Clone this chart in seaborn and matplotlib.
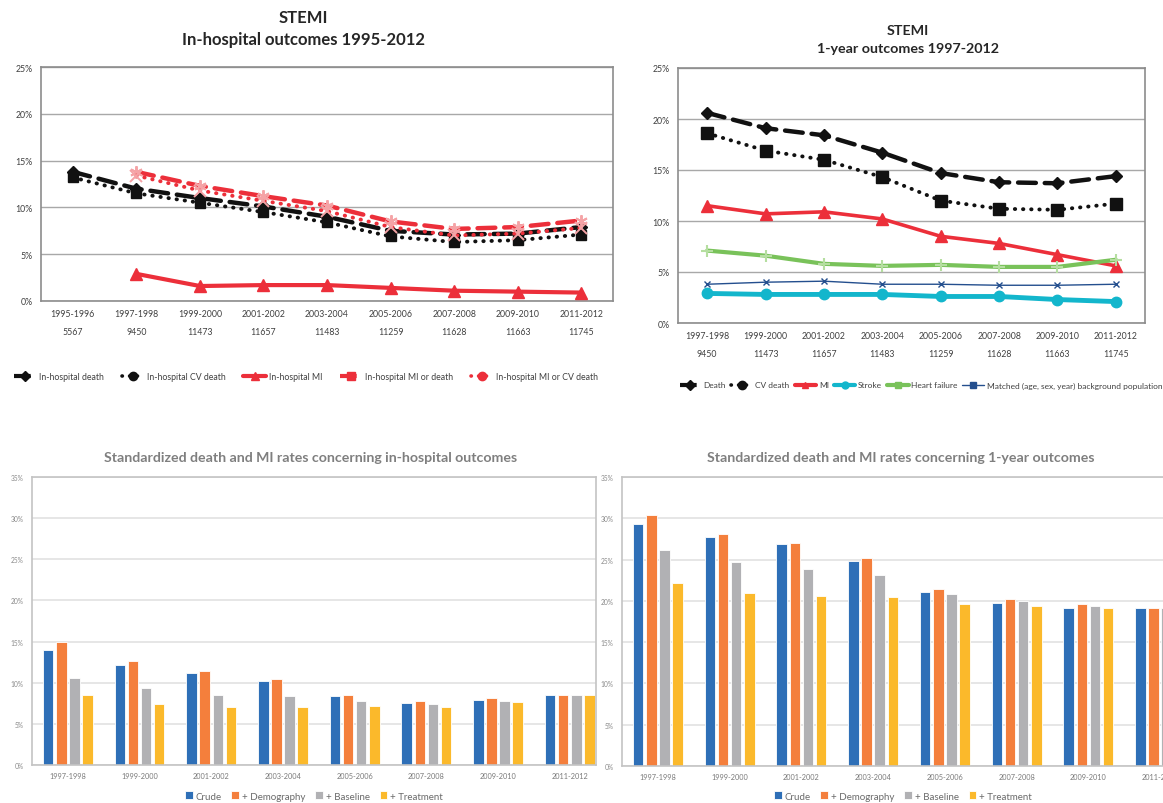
import numpy as np
import pandas as pd
import seaborn as sns
import matplotlib.pyplot as plt
from matplotlib.lines import Line2D

sns.set_style("white")
plt.rcParams['font.family'] = ['Lato', 'DejaVu Sans']

# ---- data: in-hospital outcomes (top left)
hosp_periods = ['1995-1996', '1997-1998', '1999-2000', '2001-2002', '2003-2004',
                '2005-2006', '2007-2008', '2009-2010', '2011-2012']
hosp_counts = ['5567', '9450', '11473', '11657', '11483', '11259', '11628', '11663', '11745']
hosp_death = [13.8, 12.0, 11.0, 10.1, 9.0, 7.5, 7.1, 7.2, 7.9]
hosp_cv_death = [13.2, 11.5, 10.5, 9.5, 8.4, 6.9, 6.3, 6.5, 7.1]
hosp_mi = [np.nan, 2.9, 1.6, 1.7, 1.7, 1.4, 1.1, 1.0, 0.9]
hosp_mi_or_death = [np.nan, 13.8, 12.3, 11.2, 10.2, 8.5, 7.7, 7.9, 8.6]
hosp_mi_or_cv_death = [np.nan, 13.4, 11.8, 10.7, 9.6, 7.9, 7.0, 7.2, 7.8]

# ---- data: 1-year outcomes (top right)
year_periods = hosp_periods[1:]
year_counts = hosp_counts[1:]
year_death = [20.6, 19.1, 18.4, 16.7, 14.7, 13.8, 13.7, 14.4]
year_cv_death = [18.6, 16.9, 16.0, 14.3, 12.0, 11.2, 11.1, 11.7]
year_mi = [11.5, 10.7, 10.9, 10.2, 8.5, 7.8, 6.7, 5.6]
year_stroke = [2.9, 2.8, 2.8, 2.8, 2.6, 2.6, 2.3, 2.1]
year_hf = [7.1, 6.6, 5.8, 5.6, 5.7, 5.5, 5.5, 6.2]
year_matched = [3.8, 4.0, 4.1, 3.8, 3.8, 3.7, 3.7, 3.8]

# ---- data: standardized rates (bottom)
models = ['Crude', '+ Demography', '+ Baseline', '+ Treatment']
std_hosp = {
    'Crude': [14.0, 12.2, 11.2, 10.2, 8.4, 7.5, 7.9, 8.5],
    '+ Demography': [14.9, 12.6, 11.4, 10.4, 8.5, 7.8, 8.1, 8.5],
    '+ Baseline': [10.6, 9.4, 8.5, 8.4, 7.8, 7.4, 7.8, 8.5],
    '+ Treatment': [8.5, 7.4, 7.0, 7.1, 7.2, 7.1, 7.7, 8.5],
}
std_year = {
    'Crude': [29.3, 27.7, 26.9, 24.8, 21.1, 19.7, 19.1, 19.1],
    '+ Demography': [30.4, 28.1, 27.0, 25.2, 21.4, 20.2, 19.6, 19.1],
    '+ Baseline': [26.1, 24.7, 23.9, 23.1, 20.8, 20.0, 19.4, 19.1],
    '+ Treatment': [22.2, 21.0, 20.6, 20.5, 19.6, 19.4, 19.1, 19.1],
}
bar_colors = ['#2e6fb7', '#f47f3c', '#b1b1b4', '#fbb92b']

BLACK = '#111111'
RED = '#ec2f3a'
PINK = '#f5a3a6'
CYAN = '#13b6cc'
GREEN = '#79c25a'
NAVY = '#244f8e'

W, H = 1163, 804
fig = plt.figure(figsize=(W / 100, H / 100), dpi=100)


def px_axes(left, top, right, bottom):
    return fig.add_axes([left / W, 1 - bottom / H, (right - left) / W, (bottom - top) / H])


def draw_line(ax, y, color, ls, lw, marker, ms, mfc, mec, mew=1.0, z=3):
    sns.lineplot(x=np.arange(len(y)), y=y, ax=ax, color=color, linestyle=ls,
                 linewidth=lw, marker=marker, markersize=ms, markerfacecolor=mfc,
                 markeredgecolor=mec, markeredgewidth=mew, dash_capstyle='round',
                 errorbar=None, zorder=z, legend=False)


def style_line_axes(ax, periods, counts, top):
    n = len(periods)
    ax.set_xlim(-0.5, n - 0.5)
    ax.set_ylim(0, top)
    ax.set_yticks(range(0, top + 1, 5))
    ax.set_yticklabels([f'{v}%' for v in range(0, top + 1, 5)], fontsize=6.3, color='#404040')
    ax.set_xticks(range(n))
    ax.set_xticklabels([f'{p}\n{c}' for p, c in zip(periods, counts)],
                       fontsize=6.3, color='#404040', linespacing=2.3)
    ax.tick_params(length=0, pad=6)
    ax.grid(axis='y', color='#a8a8a8', linewidth=1.0)
    ax.set_axisbelow(True)
    for s in ax.spines.values():
        s.set_color('#8c8c8c')
        s.set_linewidth(1.2)
    ax.set_xlabel('')
    ax.set_ylabel('')


dash = (0, (4, 2))
dot = (0, (0.1, 2))

# ---- top left
ax1 = px_axes(41, 68, 613, 302)
draw_line(ax1, hosp_death, BLACK, dash, 3.2, 'D', 6, BLACK, BLACK)
draw_line(ax1, hosp_cv_death, BLACK, dot, 2.8, 's', 7.5, BLACK, BLACK)
draw_line(ax1, hosp_mi, RED, '-', 3, '^', 8, RED, RED)
draw_line(ax1, hosp_mi_or_death, RED, dash, 3.2, (6, 2, 0), 9, PINK, PINK, 1.4)
draw_line(ax1, hosp_mi_or_cv_death, RED, dot, 2.8, 'x', 8, PINK, PINK, 1.4)
style_line_axes(ax1, hosp_periods, hosp_counts, 25)
fig.text(303 / W, 1 - 18 / H, 'STEMI', ha='center', va='center', fontsize=12, fontweight='bold')
fig.text(303 / W, 1 - 40 / H, 'In-hospital outcomes 1995-2012', ha='center', va='center',
         fontsize=12, fontweight='bold')
h1 = [
    Line2D([], [], color=BLACK, ls=dash, lw=3, marker='D', ms=5),
    Line2D([], [], color=BLACK, ls=dot, lw=2.6, marker='o', ms=6, dash_capstyle='round'),
    Line2D([], [], color=RED, ls='-', lw=3, marker='^', ms=6),
    Line2D([], [], color=RED, ls=dash, lw=3, marker='s', ms=6),
    Line2D([], [], color=RED, ls=dot, lw=2.6, marker='o', ms=6, dash_capstyle='round'),
]
l1 = ['In-hospital death', 'In-hospital CV death', 'In-hospital MI',
      'In-hospital MI or death', 'In-hospital MI or CV death']
fig.legend(h1, l1, loc='center', bbox_to_anchor=(306 / W, 1 - 378 / H), ncol=5,
           frameon=False, fontsize=6.3, handlelength=2.6, handletextpad=0.3,
           columnspacing=2.0, labelcolor='#404040')

# ---- top right
ax2 = px_axes(678, 69, 1145, 324)
draw_line(ax2, year_death, BLACK, dash, 3.2, 'D', 6, BLACK, BLACK)
draw_line(ax2, year_cv_death, BLACK, dot, 2.8, 's', 8, BLACK, BLACK)
draw_line(ax2, year_mi, RED, '-', 2.6, '^', 8, RED, RED)
draw_line(ax2, year_hf, GREEN, '-', 3, '+', 9, '#b5dea0', '#b5dea0', 1.5)
draw_line(ax2, year_matched, NAVY, '-', 1.0, 'x', 5, NAVY, NAVY, 1.0)
draw_line(ax2, year_stroke, CYAN, '-', 3.5, 'o', 7.5, CYAN, CYAN)
style_line_axes(ax2, year_periods, year_counts, 25)
fig.text(908 / W, 1 - 31 / H, 'STEMI', ha='center', va='center', fontsize=10.3, fontweight='bold')
fig.text(908 / W, 1 - 49 / H, '1-year outcomes 1997-2012', ha='center', va='center',
         fontsize=10.3, fontweight='bold')
h2 = [
    Line2D([], [], color=BLACK, ls=dash, lw=3, marker='D', ms=5),
    Line2D([], [], color=BLACK, ls=dot, lw=2.6, marker='o', ms=6, dash_capstyle='round'),
    Line2D([], [], color=RED, ls='-', lw=3, marker='^', ms=5),
    Line2D([], [], color=CYAN, ls='-', lw=3, marker='o', ms=5),
    Line2D([], [], color=GREEN, ls='-', lw=3, marker='s', ms=5),
    Line2D([], [], color=NAVY, ls='-', lw=1, marker='s', ms=4),
]
l2 = ['Death', 'CV death', 'MI', 'Stroke', 'Heart failure',
      'Matched (age, sex, year) background population']
fig.legend(h2, l2, loc='center left', bbox_to_anchor=(672 / W, 1 - 386 / H), ncol=6,
           frameon=False, fontsize=6.0, handlelength=2.6, handletextpad=0.3,
           columnspacing=0.6, labelcolor='#404040')


# ---- bottom bar charts
def bar_panel(ax, table, title, title_x, legend_x, xmax):
    df = pd.DataFrame([(p, m, v) for m in models for p, v in zip(year_periods, table[m])],
                      columns=['period', 'model', 'rate'])
    sns.barplot(data=df, x='period', y='rate', hue='model', hue_order=models,
                palette=bar_colors, saturation=1, width=0.73, gap=0.2, edgecolor='white',
                linewidth=0.6, ax=ax)
    ax.set_xlim(-0.5, xmax)
    ax.set_ylim(0, 35)
    ax.set_yticks(range(0, 36, 5))
    ax.set_yticklabels([f'{v}%' for v in range(0, 36, 5)], fontsize=4.8, color='#8a8a8a')
    ax.tick_params(axis='x', labelsize=5.3, labelcolor='#7a7a7a', length=0, pad=5)
    ax.tick_params(axis='y', length=0, pad=6)
    ax.grid(axis='y', color='#e2e2e2', linewidth=1.2)
    ax.set_axisbelow(True)
    for s in ax.spines.values():
        s.set_color('#c4c4c4')
        s.set_linewidth(1.2)
    ax.set_xlabel('')
    ax.set_ylabel('')
    sns.move_legend(ax, 'center', bbox_to_anchor=(legend_x / W, 1 - 797 / H),
                    bbox_transform=fig.transFigure, ncol=4, frameon=False, title=None,
                    fontsize=7, handlelength=0.8, handleheight=0.8, handletextpad=0.3,
                    columnspacing=1.0, labelcolor='#6a6a6a')
    fig.text(title_x / W, 1 - 458 / H, title, ha='center', va='center', fontsize=10.2,
             fontweight='bold', color='#7f7f7f')


ax3 = px_axes(32, 478, 596, 766)
bar_panel(ax3, std_hosp, 'Standardized death and MI rates concerning in-hospital outcomes',
          311, 314, -0.5 + 564 / 71.7)

ax4 = px_axes(622, 478, 1196, 767)
bar_panel(ax4, std_year, 'Standardized death and MI rates concerning 1-year outcomes',
          901, 903, 7.5)

fig.savefig('out.png', dpi=100)
